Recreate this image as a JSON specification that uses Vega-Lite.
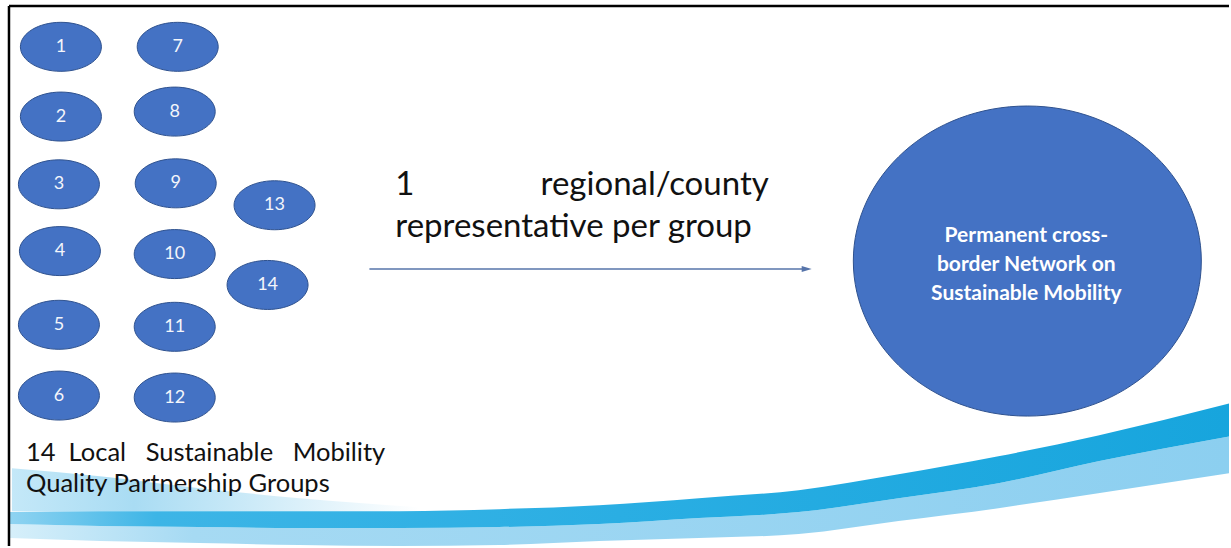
{
  "$schema": "https://vega.github.io/schema/vega-lite/v6.json",
  "width": 1231,
  "height": 548,
  "padding": 0,
  "autosize": {"type": "fit", "contains": "padding"},
  "background": "white",
  "config": {"view": {"stroke": null}, "axis": {"disable": true}},
  "datasets": {
    "ellipses": [
      {"id": "1", "x": 61, "y": 47}, {"id": "2", "x": 61, "y": 117}, {"id": "3", "x": 59, "y": 185},
      {"id": "4", "x": 60, "y": 252}, {"id": "5", "x": 59, "y": 326}, {"id": "6", "x": 59, "y": 397},
      {"id": "7", "x": 178, "y": 47}, {"id": "8", "x": 175, "y": 112}, {"id": "9", "x": 176, "y": 184},
      {"id": "10", "x": 175, "y": 255}, {"id": "11", "x": 175, "y": 328}, {"id": "12", "x": 175, "y": 399},
      {"id": "13", "x": 275, "y": 206}, {"id": "14", "x": 268, "y": 286}
    ],
    "dark": [
      {"x": 10, "top": 514, "bottom": 526}, {"x": 100, "top": 513, "bottom": 528},
      {"x": 200, "top": 513, "bottom": 529}, {"x": 300, "top": 513, "bottom": 530},
      {"x": 400, "top": 513, "bottom": 530}, {"x": 500, "top": 511, "bottom": 529},
      {"x": 600, "top": 507, "bottom": 526}, {"x": 700, "top": 500, "bottom": 520},
      {"x": 800, "top": 492, "bottom": 514}, {"x": 900, "top": 476, "bottom": 500},
      {"x": 1000, "top": 458, "bottom": 485}, {"x": 1100, "top": 437, "bottom": 463},
      {"x": 1231, "top": 405, "bottom": 438}
    ],
    "light": [
      {"x": 10, "top": 526, "bottom": 540}, {"x": 100, "top": 528, "bottom": 543},
      {"x": 200, "top": 529, "bottom": 545}, {"x": 300, "top": 530, "bottom": 547},
      {"x": 400, "top": 530, "bottom": 548}, {"x": 500, "top": 529, "bottom": 547},
      {"x": 600, "top": 526, "bottom": 543}, {"x": 700, "top": 520, "bottom": 540},
      {"x": 800, "top": 514, "bottom": 536}, {"x": 900, "top": 500, "bottom": 523},
      {"x": 1000, "top": 485, "bottom": 510}, {"x": 1100, "top": 463, "bottom": 495},
      {"x": 1231, "top": 438, "bottom": 475}
    ],
    "faint": [
      {"x": 12, "top": 470, "bottom": 513}, {"x": 100, "top": 478, "bottom": 513},
      {"x": 200, "top": 490, "bottom": 513}, {"x": 300, "top": 500, "bottom": 513},
      {"x": 420, "top": 509, "bottom": 513}
    ],
    "frameH": [{"x": 9, "x2": 1231, "y": 6}],
    "frameV": [{"x": 9, "y": 6, "y2": 548}],
    "arrow": [{"x": 370, "x2": 806, "y": 270}],
    "arrowHead": [{"x": 808, "y": 270}],
    "bigCircle": [{"x": 1029, "y": 262}],
    "leftText": [
      {"t": "14\u00a0\u00a0Local\u00a0\u00a0\u00a0Sustainable\u00a0\u00a0\u00a0Mobility", "x": 26, "y": 463},
      {"t": "Quality Partnership Groups", "x": 26, "y": 494}
    ],
    "midLeft": [
      {"t": "1", "x": 396, "y": 196},
      {"t": "representative per group", "x": 396, "y": 238}
    ],
    "midRight": [{"t": "regional/county", "x": 770, "y": 196}],
    "circleText": [
      {"t": "Permanent cross-", "x": 1028, "y": 243},
      {"t": "border Network on", "x": 1028, "y": 272},
      {"t": "Sustainable Mobility", "x": 1028, "y": 301}
    ]
  },
  "layer": [
    {
      "data": {"name": "faint"},
      "mark": {"type": "area", "interpolate": "monotone",
        "color": {"gradient": "linear", "x1": 0, "x2": 1, "y1": 0, "y2": 0,
          "stops": [{"offset": 0, "color": "#c4e8f8"}, {"offset": 0.3, "color": "#a9dcf3"}, {"offset": 1, "color": "#ffffff"}]}},
      "encoding": {
        "x": {"field": "x", "type": "quantitative", "axis": null, "scale": {"domain": [0, 1231], "nice": false, "zero": false}},
        "y": {"field": "top", "type": "quantitative", "axis": null, "scale": {"domain": [0, 548], "nice": false, "zero": false, "reverse": true}},
        "y2": {"field": "bottom"}
      }
    },
    {
      "data": {"name": "light"},
      "mark": {"type": "area", "interpolate": "monotone",
        "color": {"gradient": "linear", "x1": 0, "x2": 1, "y1": 0, "y2": 0,
          "stops": [{"offset": 0, "color": "#d6effa"}, {"offset": 0.15, "color": "#a6daf3"}, {"offset": 1, "color": "#8ccff0"}]}},
      "encoding": {
        "x": {"field": "x", "type": "quantitative", "axis": null},
        "y": {"field": "top", "type": "quantitative", "axis": null},
        "y2": {"field": "bottom"}
      }
    },
    {
      "data": {"name": "dark"},
      "mark": {"type": "area", "interpolate": "monotone",
        "color": {"gradient": "linear", "x1": 0, "x2": 1, "y1": 0, "y2": 0,
          "stops": [{"offset": 0, "color": "#8fd3f1"}, {"offset": 0.12, "color": "#3db5e6"}, {"offset": 0.5, "color": "#2aaee3"}, {"offset": 1, "color": "#17a5dd"}]}},
      "encoding": {
        "x": {"field": "x", "type": "quantitative", "axis": null},
        "y": {"field": "top", "type": "quantitative", "axis": null},
        "y2": {"field": "bottom"}
      }
    },
    {
      "data": {"name": "frameH"},
      "mark": {"type": "rule", "color": "#000000", "strokeWidth": 2.5},
      "encoding": {
        "x": {"field": "x", "type": "quantitative", "axis": null},
        "x2": {"field": "x2"},
        "y": {"field": "y", "type": "quantitative", "axis": null}
      }
    },
    {
      "data": {"name": "frameV"},
      "mark": {"type": "rule", "color": "#000000", "strokeWidth": 2.5},
      "encoding": {
        "x": {"field": "x", "type": "quantitative", "axis": null},
        "y": {"field": "y", "type": "quantitative", "axis": null},
        "y2": {"field": "y2"}
      }
    },
    {
      "data": {"name": "arrow"},
      "mark": {"type": "rule", "color": "#5674aa", "strokeWidth": 1.3},
      "encoding": {
        "x": {"field": "x", "type": "quantitative", "axis": null},
        "x2": {"field": "x2"},
        "y": {"field": "y", "type": "quantitative", "axis": null}
      }
    },
    {
      "data": {"name": "arrowHead"},
      "mark": {"type": "point", "shape": "M -1 -0.6 L 1 0 L -1 0.6 Z", "filled": true, "color": "#5674aa", "opacity": 1, "size": 100},
      "encoding": {
        "x": {"field": "x", "type": "quantitative", "axis": null},
        "y": {"field": "y", "type": "quantitative", "axis": null}
      }
    },
    {
      "data": {"name": "ellipses"},
      "mark": {"type": "point", "shape": "M -1 0 A 1 0.605 0 1 0 1 0 A 1 0.605 0 1 0 -1 0 Z", "filled": true, "fill": "#4472c4", "stroke": "#2f528f", "strokeWidth": 1, "opacity": 1, "fillOpacity": 1, "size": 6561},
      "encoding": {
        "x": {"field": "x", "type": "quantitative", "axis": null},
        "y": {"field": "y", "type": "quantitative", "axis": null}
      }
    },
    {
      "data": {"name": "ellipses"},
      "mark": {"type": "text", "color": "#f4f6fb", "font": "Lato", "fontSize": 18, "align": "center", "baseline": "middle"},
      "encoding": {
        "x": {"field": "x", "type": "quantitative", "axis": null},
        "y": {"field": "y", "type": "quantitative", "axis": null},
        "text": {"field": "id"}
      }
    },
    {
      "data": {"name": "bigCircle"},
      "mark": {"type": "point", "shape": "M -1 0 A 1 0.891 0 1 0 1 0 A 1 0.891 0 1 0 -1 0 Z", "filled": true, "fill": "#4472c4", "stroke": "#2f528f", "strokeWidth": 1, "opacity": 1, "fillOpacity": 1, "size": 121104},
      "encoding": {
        "x": {"field": "x", "type": "quantitative", "axis": null},
        "y": {"field": "y", "type": "quantitative", "axis": null}
      }
    },
    {
      "data": {"name": "circleText"},
      "mark": {"type": "text", "color": "#ffffff", "font": "Lato", "fontWeight": "bold", "fontSize": 21, "align": "center", "baseline": "alphabetic"},
      "encoding": {
        "x": {"field": "x", "type": "quantitative", "axis": null},
        "y": {"field": "y", "type": "quantitative", "axis": null},
        "text": {"field": "t"}
      }
    },
    {
      "data": {"name": "leftText"},
      "mark": {"type": "text", "color": "#111111", "font": "Lato", "fontSize": 25.5, "align": "left", "baseline": "alphabetic"},
      "encoding": {
        "x": {"field": "x", "type": "quantitative", "axis": null},
        "y": {"field": "y", "type": "quantitative", "axis": null},
        "text": {"field": "t"}
      }
    },
    {
      "data": {"name": "midLeft"},
      "mark": {"type": "text", "color": "#111111", "font": "Lato", "fontSize": 33, "align": "left", "baseline": "alphabetic"},
      "encoding": {
        "x": {"field": "x", "type": "quantitative", "axis": null},
        "y": {"field": "y", "type": "quantitative", "axis": null},
        "text": {"field": "t"}
      }
    },
    {
      "data": {"name": "midRight"},
      "mark": {"type": "text", "color": "#111111", "font": "Lato", "fontSize": 33, "align": "right", "baseline": "alphabetic"},
      "encoding": {
        "x": {"field": "x", "type": "quantitative", "axis": null},
        "y": {"field": "y", "type": "quantitative", "axis": null},
        "text": {"field": "t"}
      }
    }
  ]
}
